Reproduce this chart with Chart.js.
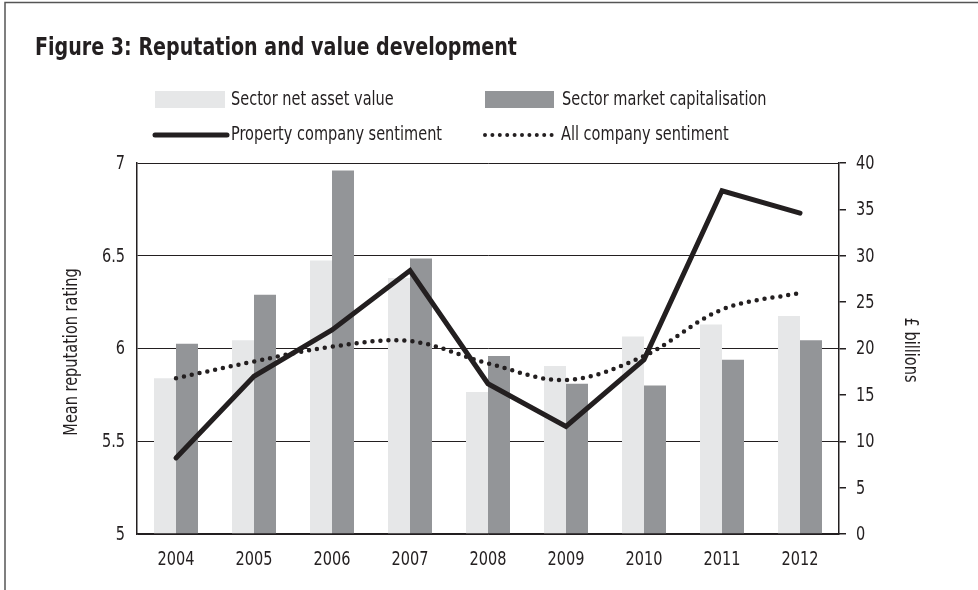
<!DOCTYPE html>
<html>
<head>
<meta charset="utf-8">
<script src="https://cdn.jsdelivr.net/npm/chart.js@4"></script>
<style>
  html, body { margin: 0; padding: 0; background: #fff; }
  #wrap { width: 978px; height: 590px; position: relative; }
</style>
</head>
<body>
<div id="wrap"><canvas id="myChart" width="978" height="590"></canvas></div>
<script>
const years = ['2004', '2005', '2006', '2007', '2008', '2009', '2010', '2011', '2012'];
// £ billions (right axis)
const netAssetValue = [16.8, 20.9, 29.5, 27.6, 15.3, 18.1, 21.3, 22.6, 23.5];
const marketCap = [20.5, 25.8, 39.2, 29.7, 19.2, 16.2, 16.0, 18.8, 20.9];
// mean reputation rating (left axis)
const propertySentiment = [5.41, 5.85, 6.10, 6.42, 5.81, 5.58, 5.94, 6.85, 6.73];
const allSentiment = [5.84, 5.93, 6.01, 6.04, 5.92, 5.83, 5.96, 6.21, 6.30];

const ink = '#231f20';
const lightGrey = '#e6e7e8';
const darkGrey = '#939598';
const fontFamily = '"Liberation Sans Narrow", "DejaVu Sans Condensed", sans-serif';
const squeeze = 0.85; // no narrow font here, so squash the condensed one a bit

Chart.defaults.font.family = fontFamily;
Chart.defaults.font.size = 19;
Chart.defaults.color = ink;

function narrowText(ctx, text, x, y, align, rot) {
  ctx.save();
  ctx.translate(x, y);
  if (rot) ctx.rotate(rot);
  ctx.scale(squeeze, 1);
  ctx.textAlign = align;
  ctx.fillText(text, 0, 0);
  ctx.restore();
}

// title, legend, tick labels, axis titles and frame
const decor = {
  id: 'decor',
  afterDraw(chart) {
    const ctx = chart.ctx;
    ctx.save();
    // frame
    ctx.strokeStyle = '#555';
    ctx.lineWidth = 1.5;
    ctx.beginPath();
    ctx.moveTo(5, 590);
    ctx.lineTo(5, 2.5);
    ctx.lineTo(978, 2.5);
    ctx.stroke();

    ctx.fillStyle = ink;
    ctx.textBaseline = 'alphabetic';
    ctx.font = 'bold 24px ' + fontFamily;
    const title = 'Figure 3: Reputation and value development';
    const tw = ctx.measureText(title).width;
    ctx.save();
    ctx.translate(35, 55);
    ctx.scale(482 / tw, 1);
    ctx.fillText(title, 0, 0);
    ctx.restore();

    ctx.font = '19px ' + fontFamily;
    ctx.textBaseline = 'middle';
    // legend row 1
    ctx.fillStyle = lightGrey;
    ctx.fillRect(155, 91, 70, 17);
    ctx.fillStyle = darkGrey;
    ctx.fillRect(485, 91, 69, 17);
    ctx.fillStyle = ink;
    narrowText(ctx, chart.data.datasets[0].label, 231, 100, 'left');
    narrowText(ctx, chart.data.datasets[1].label, 562, 100, 'left');
    // legend row 2
    ctx.strokeStyle = ink;
    ctx.lineWidth = 5;
    ctx.lineCap = 'round';
    ctx.beginPath();
    ctx.moveTo(155, 135);
    ctx.lineTo(227, 135);
    ctx.stroke();
    ctx.lineWidth = 4;
    ctx.setLineDash([0, 7.4]);
    ctx.beginPath();
    ctx.moveTo(485, 135);
    ctx.lineTo(554, 135);
    ctx.stroke();
    ctx.setLineDash([]);
    narrowText(ctx, chart.data.datasets[2].label, 231, 135, 'left');
    narrowText(ctx, chart.data.datasets[3].label, 561, 135, 'left');

    // tick labels from the scales
    const sx = chart.scales.x, sy = chart.scales.y, sr = chart.scales.yR;
    sx.ticks.forEach((t, i) => {
      narrowText(ctx, sx.getLabelForValue(t.value), sx.getPixelForTick(i), 560, 'center');
    });
    sy.ticks.forEach(t => {
      narrowText(ctx, String(t.value), 125, sy.getPixelForValue(t.value) + 1, 'right');
    });
    sr.ticks.forEach(t => {
      narrowText(ctx, String(t.value), 856, sr.getPixelForValue(t.value) + 1, 'left');
    });

    // axis titles
    narrowText(ctx, 'Mean reputation rating', 72, 352, 'center', -Math.PI / 2);
    narrowText(ctx, '£ billions', 910, 350, 'center', Math.PI / 2);
    ctx.restore();
  }
};

const ctx = document.getElementById('myChart').getContext('2d');
const myChart = new Chart(ctx, {
  data: {
    labels: years,
    datasets: [
      {
        type: 'bar',
        label: 'Sector net asset value',
        data: netAssetValue,
        yAxisID: 'yR',
        backgroundColor: lightGrey,
        barPercentage: 1,
        categoryPercentage: 0.564,
        order: 1
      },
      {
        type: 'bar',
        label: 'Sector market capitalisation',
        data: marketCap,
        yAxisID: 'yR',
        backgroundColor: darkGrey,
        barPercentage: 1,
        categoryPercentage: 0.564,
        order: 2
      },
      {
        type: 'line',
        label: 'Property company sentiment',
        data: propertySentiment,
        yAxisID: 'y',
        borderColor: ink,
        borderWidth: 5,
        borderCapStyle: 'round',
        pointRadius: 0,
        tension: 0,
        fill: false,
        order: 0
      },
      {
        type: 'line',
        label: 'All company sentiment',
        data: allSentiment,
        yAxisID: 'y',
        borderColor: ink,
        borderWidth: 4.5,
        borderCapStyle: 'round',
        borderDash: [0, 8],
        pointRadius: 0,
        tension: 0.35,
        fill: false,
        order: 0
      }
    ]
  },
  options: {
    responsive: false,
    animation: false,
    layout: { padding: { top: 163, left: 0, right: 0, bottom: 0 } },
    plugins: {
      legend: { display: false },
      title: { display: false },
      tooltip: { enabled: false }
    },
    scales: {
      x: {
        grid: { display: false, drawTicks: false },
        border: { display: true, color: ink, width: 1.5 },
        ticks: { display: false },
        afterFit(s) { s.height = 56; }
      },
      y: {
        position: 'left',
        min: 5,
        max: 7,
        ticks: { stepSize: 0.5, display: false },
        grid: { color: ink, lineWidth: 1, drawTicks: false },
        border: { display: true, color: ink, width: 1.5 },
        afterFit(s) { s.width = 137; }
      },
      yR: {
        position: 'right',
        min: 0,
        max: 40,
        ticks: { stepSize: 5, display: false },
        grid: { drawOnChartArea: false, drawTicks: true, tickLength: 7, color: ink, lineWidth: 1.5 },
        border: { display: true, color: ink, width: 1.5 },
        afterFit(s) { s.width = 139; }
      }
    }
  },
  plugins: [decor]
});
</script>
</body>
</html>
